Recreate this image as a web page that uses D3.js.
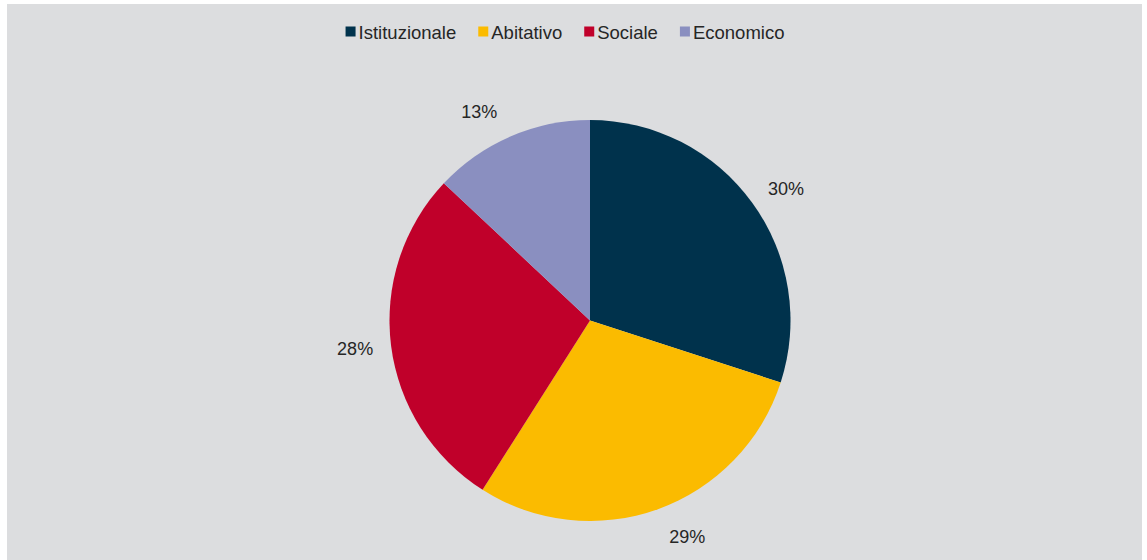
<!DOCTYPE html>
<html>
<head>
<meta charset="utf-8">
<script src="https://cdn.jsdelivr.net/npm/d3@7/dist/d3.min.js"></script>
<style>
  html, body { margin: 0; padding: 0; background: #ffffff; }
  svg { display: block; }
  text { font-family: "Liberation Sans", Arial, sans-serif; fill: #262626; }
</style>
</head>
<body>
<svg id="chart" width="1147" height="560"></svg>
<script>
// Share of the total by sector (percent)
const categories = ["Istituzionale", "Abitativo", "Sociale", "Economico"];
const shares = [30, 29, 28, 13];
const colors = ["#00324c", "#fbbb00", "#c0002a", "#8a8fc0"];

// Small angular nudges (degrees) so labels sit where they read best
const labelNudgeDeg = [2, -4.5, 0.5, -4.5];

const W = 1147, H = 560;
const svg = d3.select("#chart");

// Panel background
svg.append("rect")
  .attr("x", 7).attr("y", 4)
  .attr("width", 1135).attr("height", H - 4)
  .attr("fill", "#dcdddf");

const cx = 590, cy = 320.5, R = 200.5;

const data = categories.map((c, i) => ({ name: c, value: shares[i], color: colors[i], nudge: labelNudgeDeg[i] }));

const pie = d3.pie().sort(null).value(d => d.value);
const arc = d3.arc().innerRadius(0).outerRadius(R);
const arcs = pie(data);

const g = svg.append("g").attr("transform", `translate(${cx},${cy})`);

g.selectAll("path.slice")
  .data(arcs)
  .join("path")
  .attr("class", "slice")
  .attr("d", arc)
  .attr("fill", d => d.data.color);

// Percentage labels outside the pie
const labelR = 236.5;
g.selectAll("text.pct")
  .data(arcs)
  .join("text")
  .attr("class", "pct")
  .attr("text-anchor", "middle")
  .attr("dominant-baseline", "central")
  .style("font-size", "18px")
  .attr("x", d => {
    const a = (d.startAngle + d.endAngle) / 2 + d.data.nudge * Math.PI / 180;
    return labelR * Math.sin(a);
  })
  .attr("y", d => {
    const a = (d.startAngle + d.endAngle) / 2 + d.data.nudge * Math.PI / 180;
    return -labelR * Math.cos(a) + 0.5;
  })
  .text(d => d3.format(".0f")(d.data.value) + "%");

// Legend across the top, centred over the plot
const legend = svg.append("g");
const sw = 10, gapText = 3, gapItem = 22, fs = 18.5;
let x = 0;
const items = [];
data.forEach(d => {
  const it = legend.append("g");
  it.append("rect")
    .attr("x", 0).attr("y", -sw / 2 - 0.5)
    .attr("width", sw).attr("height", sw)
    .attr("fill", d.color);
  const t = it.append("text")
    .attr("x", sw + gapText)
    .attr("y", 0)
    .attr("dominant-baseline", "central")
    .style("font-size", fs + "px")
    .text(d.name);
  const w = sw + gapText + t.node().getComputedTextLength();
  it.attr("transform", `translate(${x},0)`);
  x += w + gapItem;
  items.push(it);
});
const totalW = x - gapItem;
legend.attr("transform", `translate(${(345 + 785) / 2 - totalW / 2},32)`);
</script>
</body>
</html>
